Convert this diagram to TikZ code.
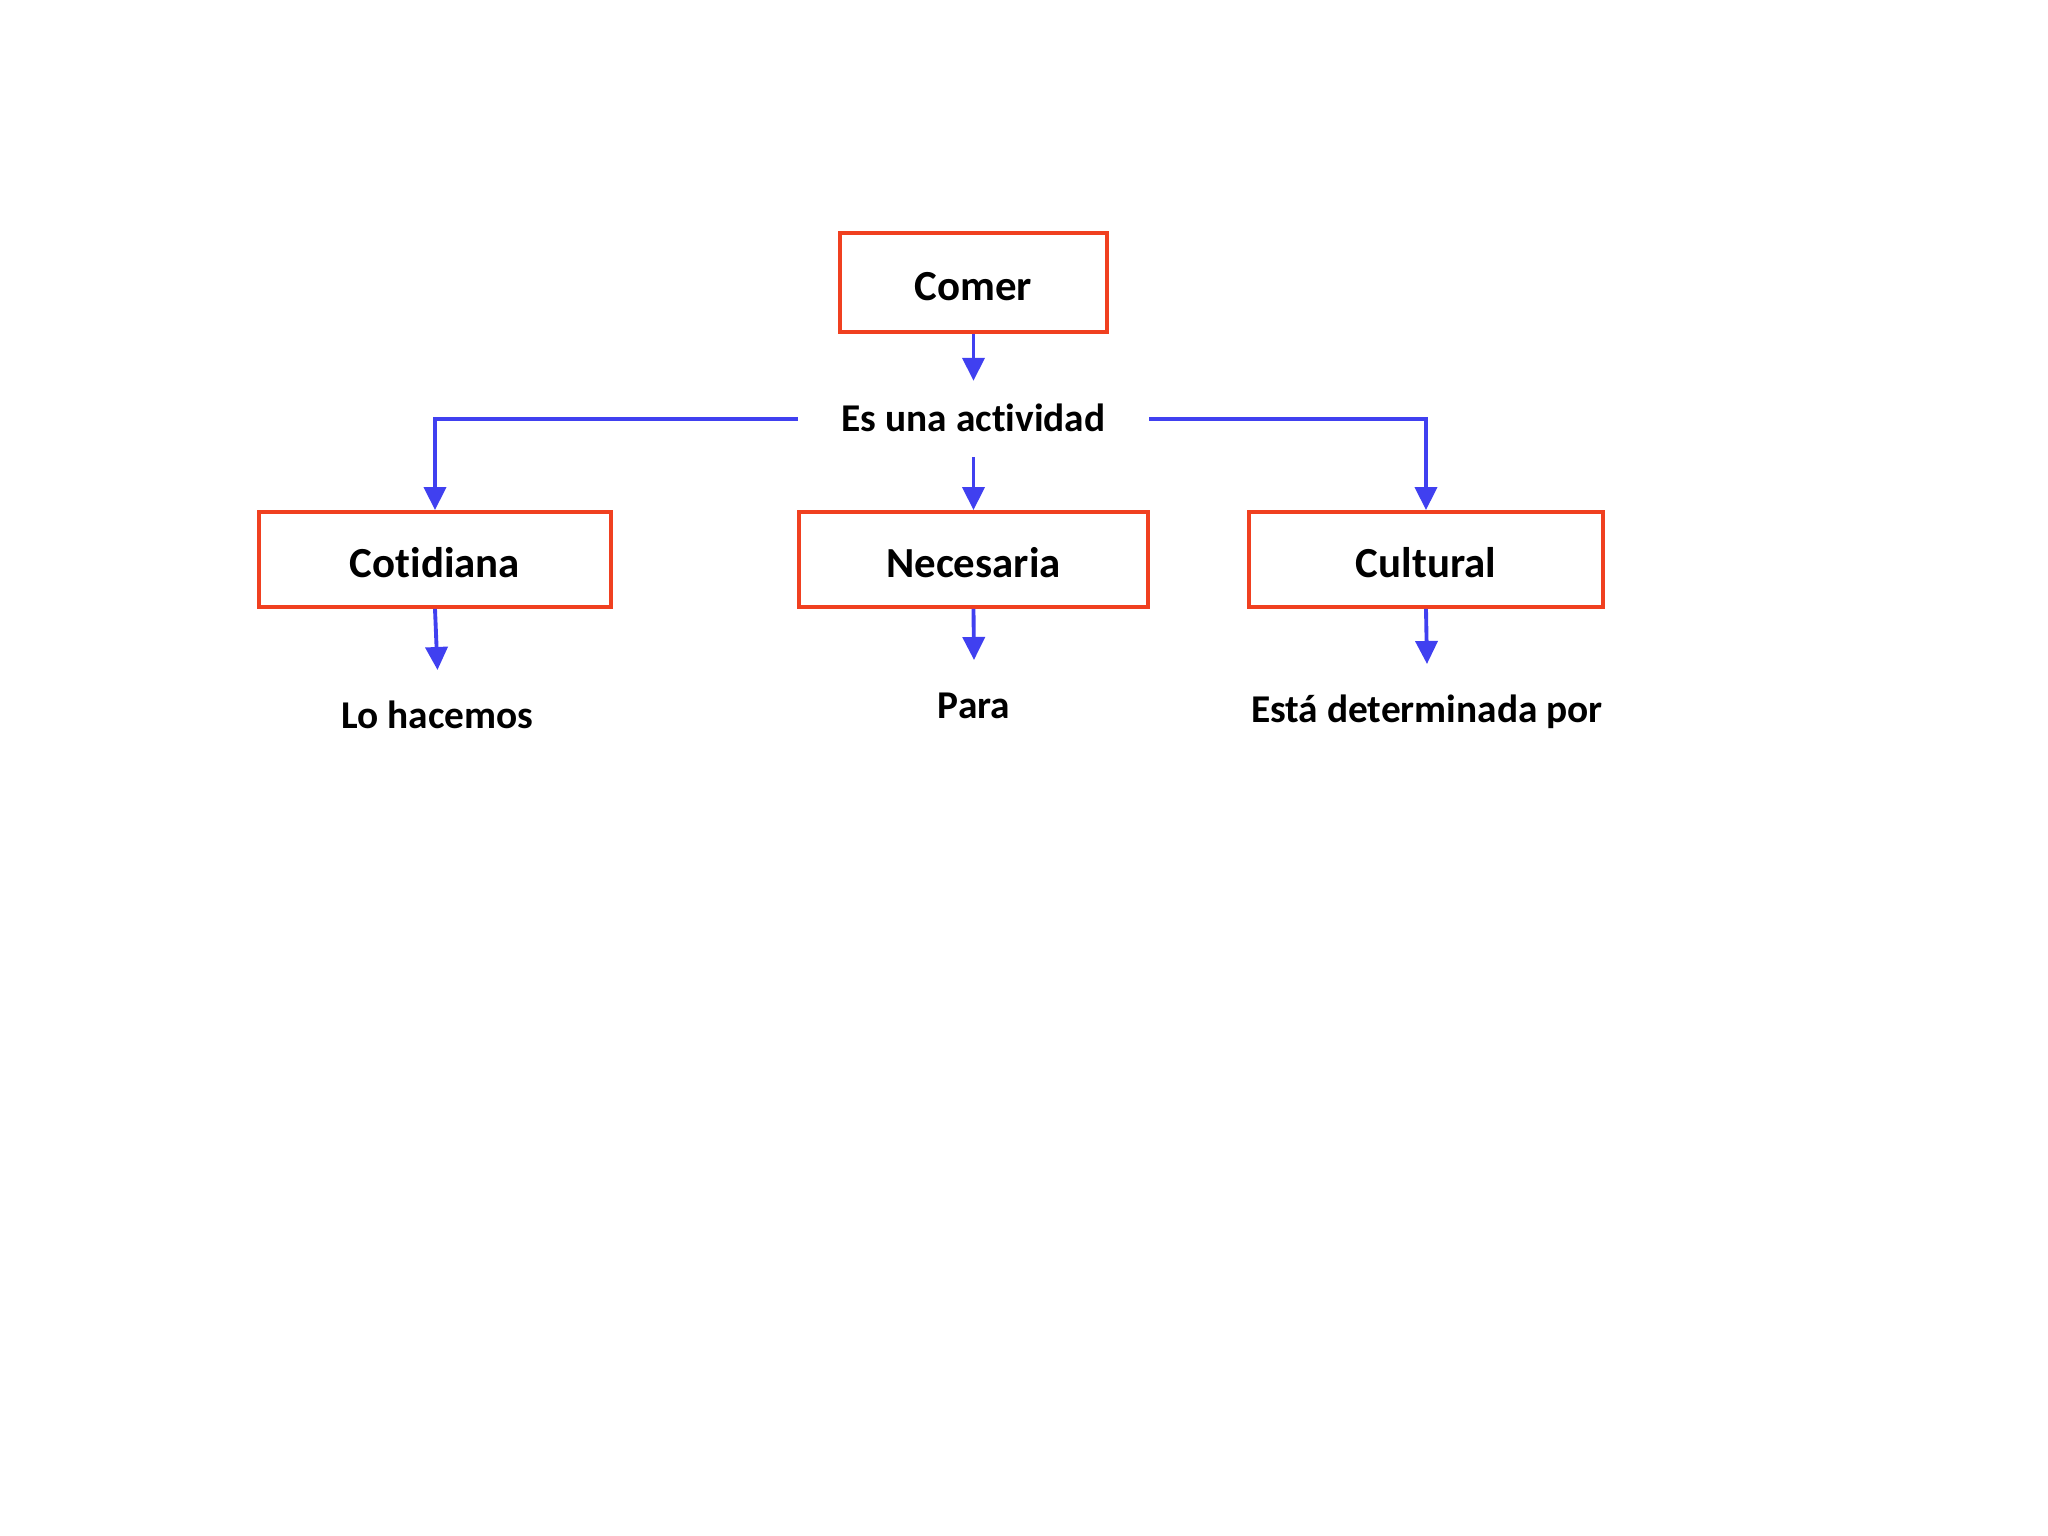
\documentclass[tikz,border=0pt]{standalone}
\usepackage{fontspec}
\setmainfont{Carlito}[Ligatures=NoCommon]
\usepackage{xcolor}
\usetikzlibrary{arrows.meta}
\definecolor{boxred}{RGB}{240,64,32}
\definecolor{linkblue}{RGB}{64,64,240}
\tikzset{
	box/.style={
			draw=boxred, line width=1.1pt, inner sep=0pt,
			minimum width=3.5cm, minimum height=0.95cm,
			text height=0.36cm, text depth=0cm,
			font=\fontsize{12.2}{14}\selectfont\bfseries
		},
	tag/.style={
			inner xsep=0pt, inner ysep=0.33cm,
			text height=0.25cm, text depth=0cm,
			font=\fontsize{11.2}{13}\selectfont\bfseries
		},
	link/.style={
			draw=linkblue, line width=1.1pt,
			-{Triangle[length=2.3mm, width=2.2mm]}
		}
}

\begin{document}
\begin{tikzpicture}
	\useasboundingbox (0,0) rectangle (20.48,-15.36);

	% top
	\node[box, minimum width=2.67cm, minimum height=0.99cm] (comer) at (9.735,-2.825) {Comer};
	\node[tag, inner ysep=0pt, minimum width=3.5cm, minimum height=0.75cm] (actividad) at (9.735,-4.19) {Es una actividad};

	% middle row
	\node[box, minimum width=3.52cm] (cotidiana) at (4.35,-5.595) {Cotidiana};
	\node[box, minimum width=3.49cm] (necesaria) at (9.735,-5.595) {Necesaria};
	\node[box, minimum width=3.54cm] (cultural) at (14.26,-5.595) {Cultural};

	% bottom row
	\node[tag, anchor=north] (hacemos) at (4.375,-6.70) {Lo hacemos};
	\node[tag, anchor=north] (para) at (9.74,-6.60) {Para};
	\node[tag, anchor=north] (determinada) at (14.27,-6.64) {Está determinada por};

	\draw[link] (comer.south) -- (actividad.north);
	\draw[link] (actividad.west) -| (cotidiana.north);
	\draw[link] (actividad.south) -- (necesaria.north);
	\draw[link] (actividad.east) -| (cultural.north);

	\draw[link] (cotidiana.south) -- (hacemos.north);
	\draw[link] (necesaria.south) -- (para.north);
	\draw[link] (cultural.south) -- (determinada.north);
\end{tikzpicture}
\end{document}
